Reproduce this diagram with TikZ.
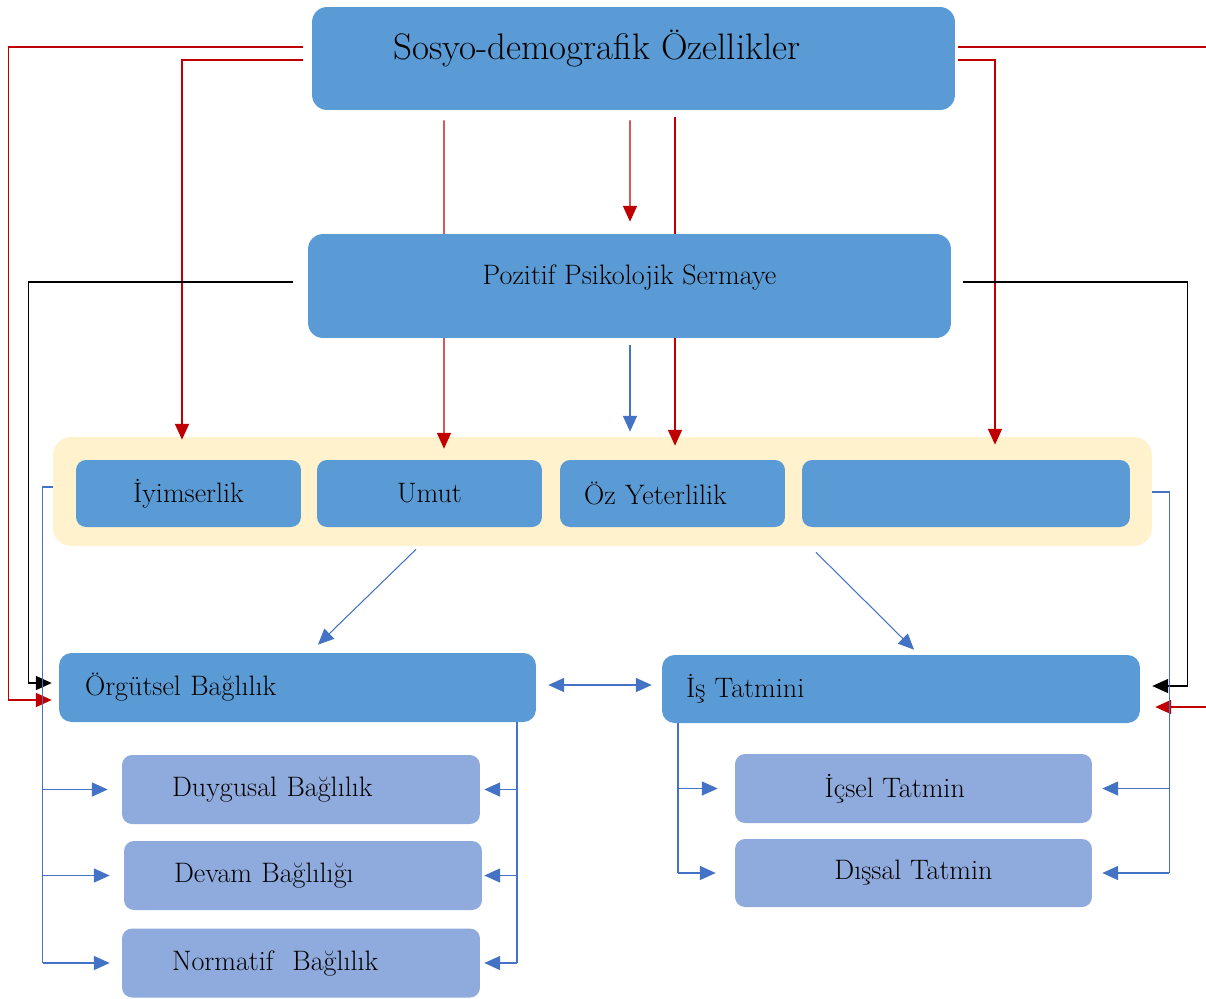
\documentclass[tikz,border=0pt]{standalone}
\usepackage{tikz}
\usetikzlibrary{arrows.meta,calc}
\definecolor{boxblue}{HTML}{5B9BD5}
\definecolor{subblue}{HTML}{8FAADC}
\definecolor{dimyellow}{HTML}{FFF2CC}
\definecolor{linered}{HTML}{C00000}
\definecolor{lineblue}{HTML}{4472C4}
\pgfdeclarelayer{bg}
\pgfdeclarelayer{edges}
\pgfsetlayers{bg,edges,main}
\tikzset{
	boxfont/.style={font=\fontsize{16}{19}\selectfont},
	mainbox/.style={fill=boxblue, rounded corners=0.3cm, minimum width=12.86cm, minimum height=2.06cm, inner sep=0pt},
	dimbox/.style={fill=boxblue, rounded corners=0.2cm, minimum width=4.5cm, minimum height=1.34cm, inner sep=0pt, boxfont},
	outbox/.style={fill=boxblue, rounded corners=0.25cm, minimum height=1.38cm, inner ysep=0pt, align=left, boxfont},
	subbox/.style={fill=subblue, rounded corners=0.2cm, minimum width=7.16cm, minimum height=1.38cm, inner sep=0pt, boxfont},
	redarr/.style={draw=linered, line width=0.8pt, -{Triangle[length=9pt,width=8pt]}},
	blackarr/.style={draw=black, line width=0.7pt, -{Triangle[length=9pt,width=8pt]}},
	bluearr/.style={draw=lineblue, line width=0.6pt, -{Triangle[length=9pt,width=8pt]}},
	blueline/.style={draw=lineblue, line width=0.6pt}
}

\begin{document}
\begin{tikzpicture}[x=0.02cm, y=-0.02cm]
	\useasboundingbox (0,0) rectangle (1206,998);
	\clip (0,0) rectangle (1206,998);

	% boxes
	\node[mainbox, label={[font=\fontsize{21}{24}\selectfont, xshift=-0.73cm, yshift=0.21cm]center:Sosyo-demografik Özellikler}] (sosyo) at (633.5,58.5) {};
	\node[mainbox, minimum height=2.08cm, label={[boxfont, yshift=0.18cm]center:Pozitif Psikolojik Sermaye}] (pps) at (629.5,286) {};
	\begin{pgfonlayer}{bg}
		\node[fill=dimyellow, rounded corners=0.36cm, minimum width=21.98cm, minimum height=2.18cm] (dims) at (602.5,491.5) {};
	\end{pgfonlayer}
	\node[dimbox] (iyim) at (188.5,493.5) {İyimserlik};
	\node[dimbox] (umut) at (429.5,493.5) {Umut};
	\node[dimbox, text width=3.54cm, inner xsep=0.48cm, align=left] (ozy) at (672.5,493.5) {Öz Yeterlilik};
	\node[dimbox, minimum width=6.56cm] (dim4) at (966,493.5) {};

	\node[outbox, text width=8.5cm, inner xsep=0.52cm] (orgb) at (297.5,687.5) {Örgütsel Bağlılık};
	\node[outbox, text width=8.6cm, inner xsep=0.48cm, minimum height=1.36cm] (ist) at (901,689) {İş Tatmini};

	\node[subbox, text width=5.16cm, inner xsep=1cm, align=left] (duyb) at (301,789.5) {Duygusal Bağlılık};
	\node[subbox, text width=5.16cm, inner xsep=1cm, align=left] (devb) at (303,875.5) {Devam Bağlılığı};
	\node[subbox, text width=5.16cm, inner xsep=1cm, align=left] (norb) at (301,963) {Normatif~ Bağlılık};
	\node[subbox, minimum width=7.14cm] (icst) at (913.5,788.5) {\hspace*{-0.75cm}İçsel Tatmin};
	\node[subbox, minimum width=7.14cm, minimum height=1.36cm] (diss) at (913.5,873) {Dışsal Tatmin};

	\begin{pgfonlayer}{edges}
		% sosyo-demografik
		\draw[redarr] ($(sosyo.west)+(-9,-11.5)$) -| ($(orgb.west)+(-50,12.5)$) -- ($(orgb.west)+(-7,12.5)$);
		\draw[redarr] ($(sosyo.west)+(-9,1.5)$) -| ($(iyim.north)+(-6.5,-20)$);
		\draw[redarr] ($(sosyo.south)+(-189.5,10)$) -- ($(umut.north)+(14.5,-11)$);
		\draw[redarr] ($(sosyo.south)+(-3.5,10)$) -- ($(pps.north)+(0.5,-12)$);
		\draw[redarr] ($(sosyo.south)+(41.5,7)$) -- ($(ozy.north)+(2.5,-14)$);
		\draw[redarr] ($(sosyo.east)+(3,-11.5)$) -- (1220,47) -- (1220,707) -- ($(ist.east)+(15,18)$);
		\draw[redarr] ($(sosyo.east)+(3,1.5)$) -| ($(dim4.north)+(29,-15)$);

		% pozitif psikolojik sermaye
		\draw[blackarr] ($(pps.west)+(-15,-4)$) -| ($(orgb.west)+(-30,-4.5)$) -- ($(orgb.west)+(-7,-4.5)$);
		\draw[blackarr] ($(pps.east)+(12,-4)$) -| ($(ist.east)+(47,-3)$) -- ($(ist.east)+(12,-3)$);
		\draw[bluearr] ($(pps.south)+(0.5,7)$) -- ($(dims.north)+(27.5,-5)$);

		% boyutlar
		\draw[bluearr] ($(dims.south)+(-186.5,3)$) -- ($(orgb.north)+(20.5,-8)$);
		\draw[bluearr] ($(dims.south)+(213.5,6)$) -- ($(ist.north)+(13,-5)$);
		\draw[bluearr, {Triangle[length=9pt,width=8pt]}-{Triangle[length=9pt,width=8pt]}] ($(orgb.east)+(12,-2.5)$) -- ($(ist.west)+(-10,-4)$);

		% alt boyutlar
		\coordinate (lb) at ($(dims.west)+(-10,-4.5)$);
		\draw[blueline] (dims.west |- lb) -- (lb) -- (lb |- norb.west);
		\foreach \n/\g in {duyb/14,devb/14,norb/12}
			\draw[bluearr] (lb |- \n.west) -- ($(\n.west)+(-\g,0)$);

		\coordinate (ob) at ($(orgb.south)+(219.5,0)$);
		\draw[blueline] (ob) -- (ob |- norb.east);
		\foreach \n/\g in {duyb/4,devb/2,norb/4}
			\draw[bluearr] (ob |- \n.east) -- ($(\n.east)+(\g,0)$);

		\coordinate (ib) at ($(ist.south)+(-223,0)$);
		\draw[blueline] (ib) -- (ib |- diss.west);
		\foreach \n/\g in {icst/17,diss/19}
			\draw[bluearr] (ib |- \n.west) -- ($(\n.west)+(-\g,0)$);

		\coordinate (rb) at ($(dims.east)+(17,0.5)$);
		\draw[blueline] (dims.east |- rb) -- (rb) -- (rb |- diss.east);
		\foreach \n in {icst,diss}
			\draw[bluearr] (rb |- \n.east) -- ($(\n.east)+(10,0)$);
	\end{pgfonlayer}
\end{tikzpicture}
\end{document}
